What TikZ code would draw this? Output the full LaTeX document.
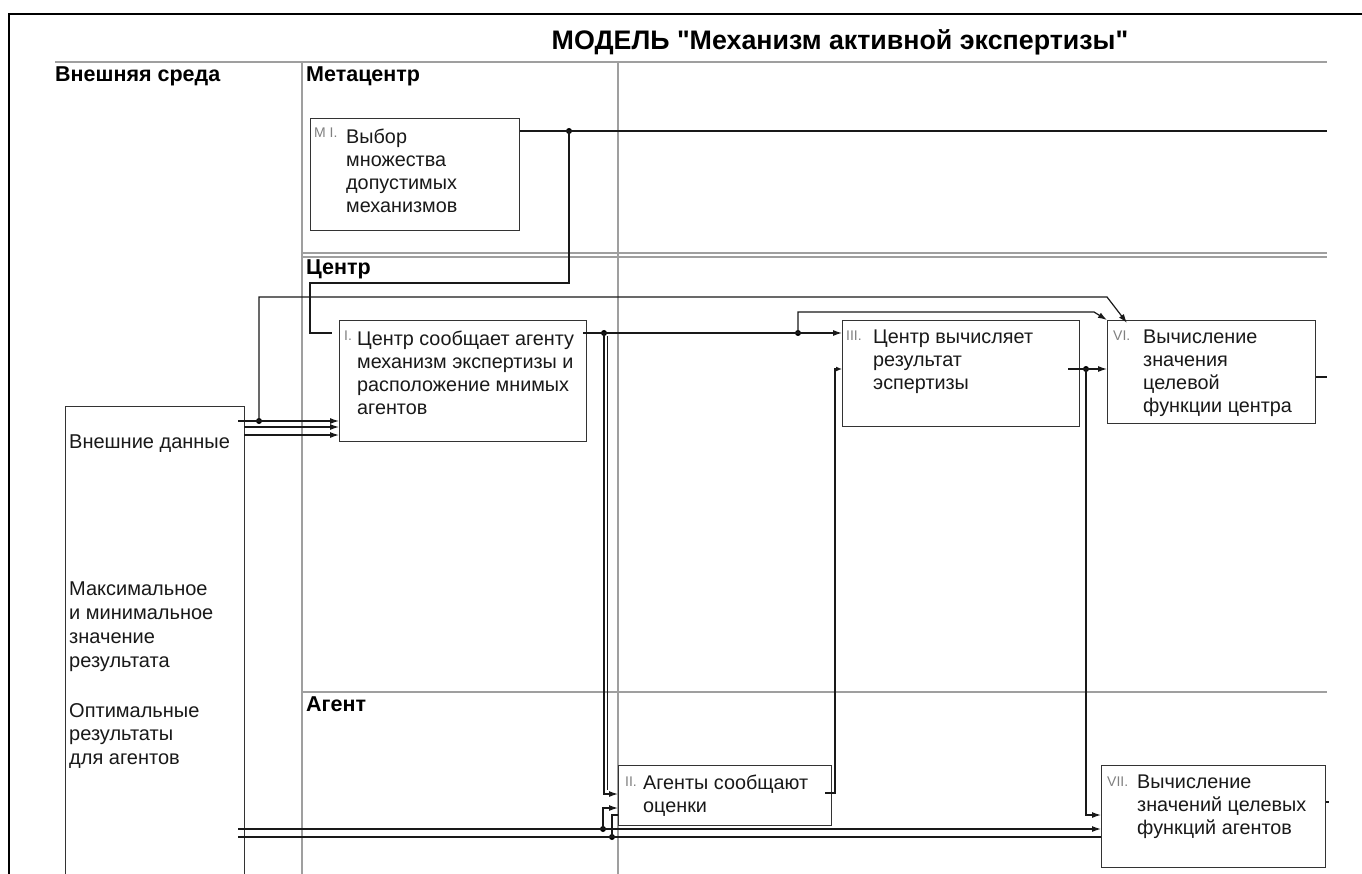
\documentclass[tikz,border=0pt]{standalone}
\usepackage{fontspec}
\setmainfont{Liberation Sans}
\usetikzlibrary{arrows.meta}
\newcommand\straightq{\XeTeXglyph\XeTeXcharglyph"0022\relax}
\begin{document}
\begin{tikzpicture}[x=1pt,y=-1pt,
  lane/.style={draw=gray!75, line width=1.3pt},
  box/.style={draw=black!80, line width=1.2pt, rectangle, inner sep=0pt, anchor=north west},
  con/.style={draw=black!90, line width=1.2pt},
  arr/.style={con, -{Latex[length=9pt,width=6pt]}},
  sarr/.style={con, -{Latex[length=6pt,width=5pt]}},
  dot/.style={circle, fill=black, inner sep=0pt, minimum size=6pt},
  txt/.style={anchor=north west, align=left, inner sep=0pt, font=\fontsize{19.8}{22.8}\selectfont, text=black!90},
  etxt/.style={anchor=north west, align=left, inner sep=0pt, font=\fontsize{20}{23.8}\selectfont, text=black!90},
  num/.style={anchor=base west, inner sep=0pt, font=\fontsize{14}{16}\selectfont, text=gray},
  lbl/.style={anchor=base west, inner sep=0pt, font=\bfseries\fontsize{21.5}{24}\selectfont}]
\useasboundingbox (0,0) rectangle (1362,874);
\fill[white] (0,0) rectangle (1362,874);

% frame
\draw[line width=2.6pt] (9,890) -- (9,14) -- (1380,14);

% title
\node[anchor=base, inner sep=0pt, font=\bfseries\fontsize{26.8}{30}\selectfont] (title) at (840,50) {МОДЕЛЬ \straightq Механизм активной экспертизы\straightq};

% lanes
\draw[lane] (55,62) -- (1327,62);
\draw[lane] (302,62) -- (302,880);
\draw[lane] (618,62) -- (618,880);
\draw[lane] (302,253) -- (1327,253);
\draw[lane] (302,257) -- (1327,257);
\draw[lane] (302,692) -- (1327,692);

\node[lbl] (lext) at (55,82) {Внешняя среда};
\node[lbl] (lmeta) at (306,82) {Метацентр};
\node[lbl] (lcen) at (306,275) {Центр};
\node[lbl] (lag) at (306,711) {Агент};

% external box
\node[box, minimum width=179pt, minimum height=490pt] (ext) at (65,406) {};
\node[etxt] (ext1) at (69,435) {Внешние данные};
\node[etxt] (ext2) at (69,582) {Максимальное\\и минимальное\\значение\\результата};
\node[etxt] (ext3) at (69,703) {Оптимальные\\результаты\\для агентов};

% boxes
\node[box, minimum width=209pt, minimum height=112pt] (mi) at (310,118) {};
\node[num] (nmi) at (314,138) {M I.};
\node[txt] (tmi) at (346,129) {Выбор\\множества\\допустимых\\механизмов};

\node[box, minimum width=247pt, minimum height=121pt] (bi) at (339,320) {};
\node[num] (nbi) at (344,341) {I.};
\node[txt] (tbi) at (357,331) {Центр сообщает агенту\\механизм экспертизы и\\расположение мнимых\\агентов};

\node[box, minimum width=237pt, minimum height=106pt] (biii) at (842,320) {};
\node[num] (nbiii) at (846,341) {III.};
\node[txt] (tbiii) at (873,330) {Центр вычисляет\\результат\\эспертизы};

\node[box, minimum width=208pt, minimum height=103pt] (bvi) at (1107,320) {};
\node[num] (nbvi) at (1113,341) {VI.};
\node[txt] (tbvi) at (1143,330) {Вычисление\\значения\\целевой\\функции центра};

\node[box, minimum width=213pt, minimum height=60pt] (bii) at (618,765) {};
\node[num] (nbii) at (625,786) {II.};
\node[txt] (tbii) at (643,775) {Агенты сообщают\\оценки};

\node[box, minimum width=224pt, minimum height=102pt] (bvii) at (1101,765) {};
\node[num] (nbvii) at (1107,786) {VII.};
\node[txt] (tbvii) at (1137,775) {Вычисление\\значений целевых\\функций агентов};

% dots
\node[dot] (d1) at (569,131) {};
\node[dot] (d2) at (259,421) {};
\node[dot] (d3) at (604,333) {};
\node[dot] (d4) at (798,333) {};
\node[dot] (d5) at (603,829) {};
\node[dot] (d6) at (612,837) {};
\node[dot] (d7) at (1086,369) {};

% free ends
\coordinate (miout) at (1327,131);
\coordinate (c1) at (332,333);
\coordinate (e1) at (238,421);
\coordinate (e2) at (244,427);
\coordinate (e3) at (244,435);
\coordinate (vitop) at (1127,323);
\coordinate (iout) at (583,333);
\coordinate (b1) at (238,829);
\coordinate (b2) at (238,837);
\coordinate (iiout) at (825,793);
\coordinate (iiiout) at (1068,369);
\coordinate (viout) at (1327,377);
\coordinate (viiout) at (1329,802);

% connectors
\draw[con] (mi.east |- d1) -- (miout);
\draw[con] (d1.center) -- (569,283) -- (310,283) -- (310,333) -- (c1);

\draw[arr] (e1) -- (bi.west |- e1);
\draw[arr] (e2) -- (bi.west |- e2);
\draw[arr] (e3) -- (bi.west |- e3);
\draw[arr] (d2.center) -- (259,297) -- (1107,297) -- (vitop);

\draw[arr] (iout) -- (biii.west |- iout);
\draw[arr] (d4.center) -- (798,312) -- (1094,312) -- (bvi.north west);
\draw[arr] (d3.center) -- (604,794) -- (bii.west |- 0,794);
\draw[con] (607.5,336) -- (607.5,790);

\draw[arr] (b1) -- (bvii.west |- b1);
\draw[con] (b2) -- (bvii.west |- b2);
\draw[arr] (d5.center) -- (603,808) -- (bii.west |- 0,808);
\draw[con] (d6.center) -- (612,815) -- (bii.west |- 0,815);

\draw[sarr] (iiout) -- (835,793) -- (835,369) -- (biii.west |- 0,369);

\draw[arr] (iiiout) -- (bvi.west |- iiiout);
\draw[arr] (d7.center) -- (1086,815) -- (bvii.west |- 0,815);

\draw[con] (bvi.east |- viout) -- (viout);
\draw[con] (bvii.east |- viiout) -- (viiout);
\end{tikzpicture}
\end{document}
